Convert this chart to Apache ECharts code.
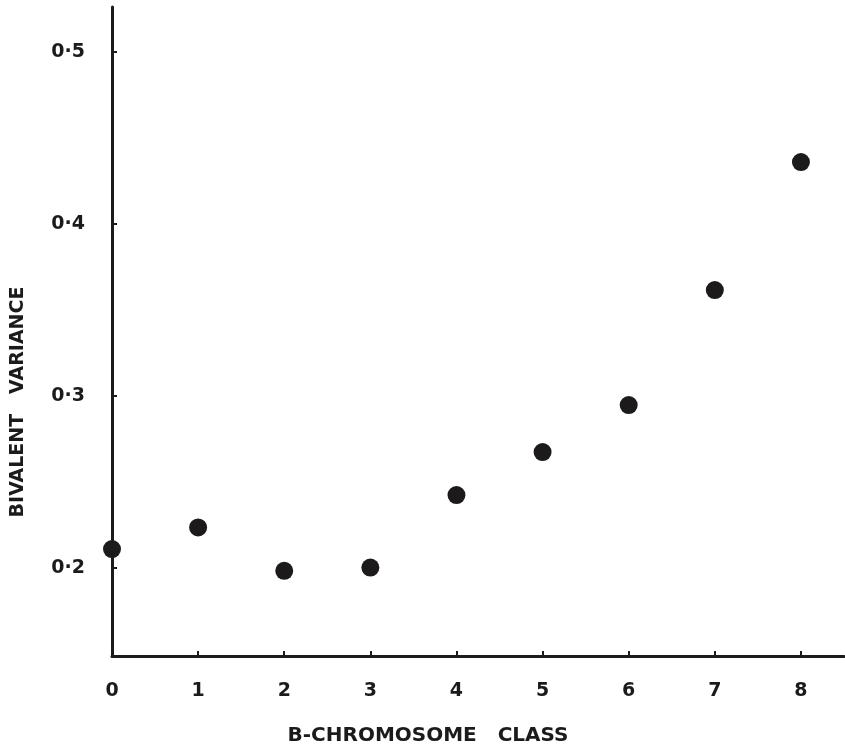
<!DOCTYPE html>
<html><head><meta charset="utf-8">
<script src="https://cdn.jsdelivr.net/npm/echarts@6/dist/echarts.min.js"></script>
<style>html,body{margin:0;padding:0;background:#fff}#c{width:845px;height:748px}</style>
</head><body><div id="c"></div>
<script>
const classes = [0, 1, 2, 3, 4, 5, 6, 7, 8];
const variance = [0.211, 0.2236, 0.1984, 0.2003, 0.2424, 0.2674, 0.2947, 0.3615, 0.4359];
const yTicks = [0.2, 0.3, 0.4, 0.5];
const xTicks = [0, 1, 2, 3, 4, 5, 6, 7, 8];
const xTitle = 'B-CHROMOSOME   CLASS';
const yTitle = 'BIVALENT   VARIANCE';
const ink = '#1c1a1b';
const font = 'DejaVu Sans';
const chart = echarts.init(document.getElementById('c'));
chart.setOption({
  animation: false,
  backgroundColor: '#fff',
  grid: {left: 112, right: 1, top: 7, bottom: 92, containLabel: false, outerBoundsMode: 'none'},
  graphic: [
    {type: 'text', x: 428, y: 736, style: {text: xTitle, fill: ink, font: 'bold 20px "DejaVu Sans"', textAlign: 'center', textVerticalAlign: 'middle'}},
    {type: 'text', x: 18, y: 402, rotation: Math.PI / 2, style: {text: yTitle, fill: ink, font: 'bold 19px "DejaVu Sans"', textAlign: 'center', textVerticalAlign: 'middle'}}
  ],
  xAxis: {
    type: 'value', min: 0, max: 8.5,
    axisLine: {show: true, onZero: false, lineStyle: {color: ink, width: 3}},
    axisTick: {show: true, inside: true, length: 5, lineStyle: {color: ink, width: 2}, customValues: xTicks},
    axisLabel: {color: ink, fontFamily: font, fontSize: 19, fontWeight: 'bold', margin: 26, customValues: xTicks, formatter: v => String(v)},
    splitLine: {show: false}
  },
  yAxis: {
    type: 'value', min: 0.1489, max: 0.526,
    axisLine: {show: true, onZero: false, lineStyle: {color: ink, width: 3}},
    axisTick: {show: true, inside: true, length: 5, lineStyle: {color: ink, width: 2}, customValues: yTicks},
    axisLabel: {color: ink, fontFamily: font, fontSize: 19, fontWeight: 'bold', margin: 27, customValues: yTicks,
      formatter: v => v.toFixed(1).replace('.', '·')},
    splitLine: {show: false}
  },
  series: [{
    type: 'scatter', symbol: 'circle', symbolSize: 18,
    itemStyle: {color: ink, opacity: 1},
    data: classes.map((c, i) => [c, variance[i]])
  }]
});
</script></body></html>
